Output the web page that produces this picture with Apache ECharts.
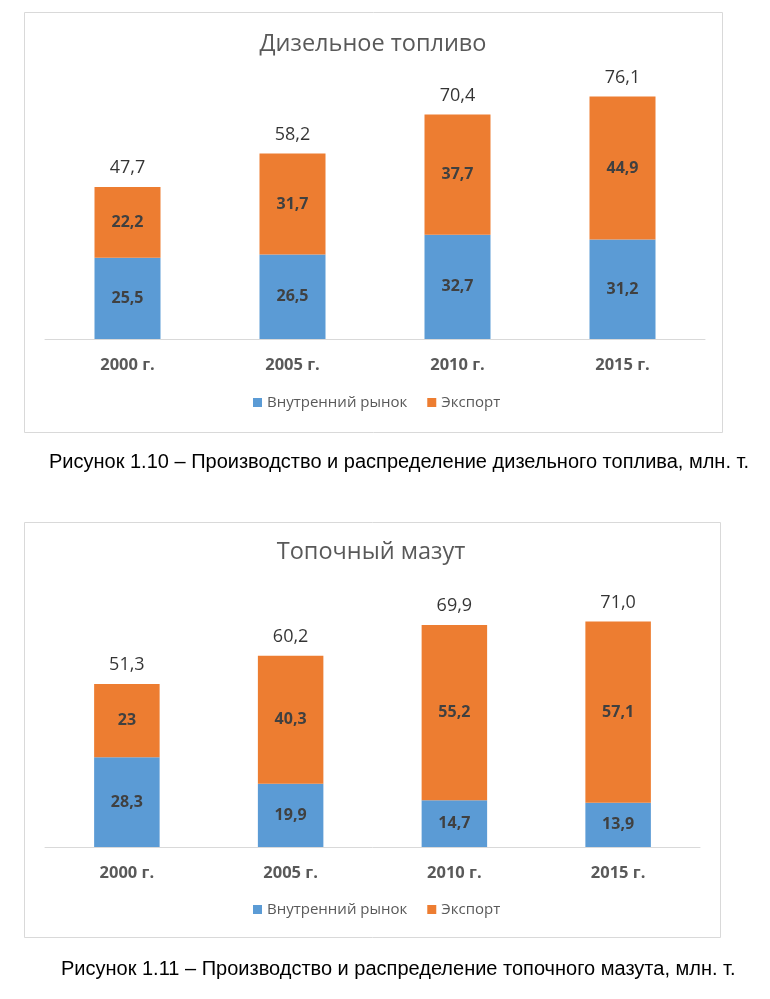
<!DOCTYPE html>
<html>
<head>
<meta charset="utf-8">
<script src="https://cdn.jsdelivr.net/npm/echarts@6/dist/echarts.min.js"></script>
<style>
  html, body { margin: 0; padding: 0; background: #fff; }
  #main { width: 770px; height: 999px; }
</style>
</head>
<body>
<div id="main"></div>
<script>
var years = ['2000 г.', '2005 г.', '2010 г.', '2015 г.'];
var seriesNames = ['Внутренний рынок', 'Экспорт'];

var dieselDomestic = [25.5, 26.5, 32.7, 31.2];
var dieselExport = [22.2, 31.7, 37.7, 44.9];
var dieselTotal = [47.7, 58.2, 70.4, 76.1];

var fuelOilDomestic = [28.3, 19.9, 14.7, 13.9];
var fuelOilExport = [23, 40.3, 55.2, 57.1];
var fuelOilTotal = [51.3, 60.2, 69.9, 71.0];

var BLUE = '#5B9BD5';
var ORANGE = '#ED7D31';
var FONT = 'Open Sans';

function comma(v) { return String(v).replace('.', ','); }
function comma1(v) { return v.toFixed(1).replace('.', ','); }

var myChart = echarts.init(document.getElementById('main'));

function segLabel() {
  return {
    show: true,
    position: 'inside',
    fontFamily: FONT,
    fontWeight: 'bold',
    fontSize: 16,
    color: '#404040',
    formatter: function (p) { return comma(p.value); }
  };
}

function barSeries(name, data, idx, color) {
  return {
    name: name,
    type: 'bar',
    stack: 'total' + idx,
    xAxisIndex: idx,
    yAxisIndex: idx,
    barWidth: '40%',
    itemStyle: { color: color },
    label: segLabel(),
    data: data
  };
}

// подписи сумм над столбиками
function totalSeries(data, idx) {
  return {
    type: 'scatter',
    xAxisIndex: idx,
    yAxisIndex: idx,
    symbolSize: 0,
    silent: true,
    label: {
      show: true,
      position: 'top',
      distance: 10,
      fontFamily: FONT,
      fontSize: 18,
      color: '#000',
      formatter: function (p) { return comma1(p.value); }
    },
    data: data
  };
}

function xAxis(idx) {
  return {
    type: 'category',
    gridIndex: idx,
    data: years,
    axisLine: { lineStyle: { color: '#d9d9d9', width: 1 } },
    axisTick: { show: false },
    axisLabel: {
      margin: 18,
      fontFamily: FONT,
      fontWeight: 'bold',
      fontSize: 16.5,
      color: '#595959'
    }
  };
}

function yAxis(idx) {
  return {
    type: 'value',
    gridIndex: idx,
    min: 0,
    max: 80,
    show: false,
    splitLine: { show: false }
  };
}

function legend(top) {
  return {
    data: seriesNames,
    left: 253,
    top: top,
    icon: 'rect',
    itemWidth: 9,
    itemHeight: 9,
    itemGap: 20,
    padding: 0,
    selectedMode: false,
    textStyle: { fontFamily: FONT, fontSize: 15, color: '#595959' }
  };
}

var option = {
  animation: false,
  title: [
    {
      text: 'Дизельное топливо',
      left: 373, top: 32, textAlign: 'center', padding: 0,
      textStyle: { fontFamily: FONT, fontWeight: 'normal', fontSize: 23.5, color: '#595959' }
    },
    {
      text: 'Топочный мазут',
      left: 371, top: 540, textAlign: 'center', padding: 0,
      textStyle: { fontFamily: FONT, fontWeight: 'normal', fontSize: 23.5, color: '#595959' }
    },
    {
      text: 'Рисунок 1.10 – Производство и распределение дизельного топлива, млн. т.',
      left: 49, top: 452, padding: 0,
      textStyle: { fontFamily: 'Liberation Sans', fontWeight: 'normal', fontSize: 20, color: '#000' }
    },
    {
      text: 'Рисунок 1.11 – Производство и распределение топочного мазута, млн. т.',
      left: 61, top: 959, padding: 0,
      textStyle: { fontFamily: 'Liberation Sans', fontWeight: 'normal', fontSize: 20, color: '#000' }
    }
  ],
  graphic: [
    { type: 'rect', z: -10, shape: { x: 24.5, y: 12.5, width: 698, height: 420 },
      style: { fill: '#fff', stroke: '#d9d9d9', lineWidth: 1 } },
    { type: 'rect', z: -10, shape: { x: 24.5, y: 522.5, width: 696, height: 415 },
      style: { fill: '#fff', stroke: '#d9d9d9', lineWidth: 1 } }
  ],
  legend: [legend(395), legend(902)],
  grid: [
    { left: 45, top: 84, width: 660, height: 255 },
    { left: 45, top: 593, width: 655, height: 254 }
  ],
  xAxis: [xAxis(0), xAxis(1)],
  yAxis: [yAxis(0), yAxis(1)],
  series: [
    barSeries(seriesNames[0], dieselDomestic, 0, BLUE),
    barSeries(seriesNames[1], dieselExport, 0, ORANGE),
    totalSeries(dieselTotal, 0),
    barSeries(seriesNames[0], fuelOilDomestic, 1, BLUE),
    barSeries(seriesNames[1], fuelOilExport, 1, ORANGE),
    totalSeries(fuelOilTotal, 1)
  ]
};

myChart.setOption(option);
</script>
</body>
</html>
